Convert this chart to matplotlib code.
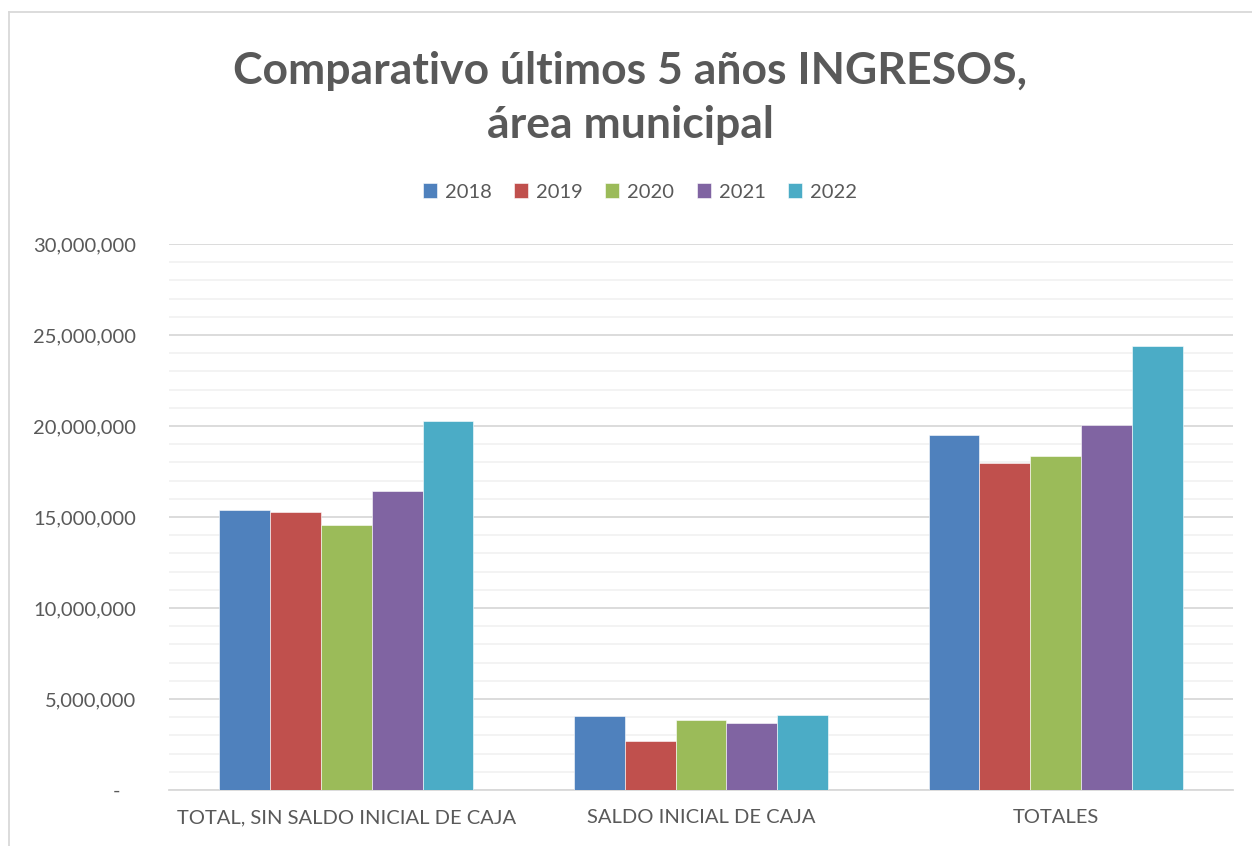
import matplotlib
matplotlib.use("Agg")
import matplotlib.pyplot as plt
from matplotlib.lines import Line2D
from matplotlib.ticker import FuncFormatter, MultipleLocator
import numpy as np

categories = ["TOTAL, SIN SALDO INICIAL DE CAJA", "SALDO INICIAL DE CAJA", "TOTALES"]
years = ["2018", "2019", "2020", "2021", "2022"]
v2018 = [15370000, 4070000, 19490000]
v2019 = [15290000, 2690000, 17970000]
v2020 = [14540000, 3850000, 18350000]
v2021 = [16410000, 3680000, 20050000]
v2022 = [20290000, 4120000, 24410000]
series = [v2018, v2019, v2020, v2021, v2022]
colors = ["#4F81BD", "#C0504D", "#9BBB59", "#8064A2", "#4BACC6"]

plt.rcParams['font.family'] = ['Lato', 'DejaVu Sans']
W, H = 1252, 846
fig = plt.figure(figsize=(W/100, H/100), dpi=100)
ax = fig.add_axes([169/W, 1-790/H, (1233-169)/W, (790-244)/H])

x = np.arange(len(categories))
bw = 0.716 / 5
for i, (yr, vals, c) in enumerate(zip(years, series, colors)):
    ax.bar(x + (i - 2) * bw, vals, width=bw, color=c, label=yr,
           edgecolor='white', linewidth=0.4, zorder=3)

ax.set_xlim(-0.5, 2.5)
ax.set_ylim(0, 30000000)
ax.yaxis.set_major_locator(MultipleLocator(5000000))
ax.yaxis.set_minor_locator(MultipleLocator(1000000))
ax.yaxis.set_major_formatter(FuncFormatter(lambda v, p: "-   " if v == 0 else f"{int(v):,}"))
ax.grid(which='major', axis='y', color='#D9D9D9', linewidth=1.3, zorder=0)
ax.grid(which='minor', axis='y', color='#F2F2F2', linewidth=1.3, zorder=0)
for s in ['top', 'right', 'left']:
    ax.spines[s].set_visible(False)
ax.spines['bottom'].set_color('#D9D9D9')
ax.spines['bottom'].set_linewidth(1.3)
ax.tick_params(axis='both', which='both', length=0, colors='#595959', labelsize=14.5)
ax.tick_params(axis='y', pad=23.5)
ax.tick_params(axis='x', pad=14)
ax.set_xticks(x)
ax.set_xticklabels(categories)

fig.text(630/W, 1-71/H, "Comparativo últimos 5 años INGRESOS,", ha='center', va='center',
         fontsize=32, fontweight='bold', color='#595959')
fig.text(630/W, 1-125/H, "área municipal", ha='center', va='center',
         fontsize=32, fontweight='bold', color='#595959')

leg = fig.legend(loc='center', bbox_to_anchor=(640/W, 1-192/H), ncol=5, frameon=False,
                 fontsize=14.5, handlelength=0.7, handleheight=0.7, handletextpad=0.4,
                 columnspacing=1.1, labelcolor='#595959')

fig.add_artist(Line2D([9/W, 1], [1-12.5/H, 1-12.5/H], transform=fig.transFigure,
                      color='#D9D9D9', linewidth=1.3))
fig.add_artist(Line2D([9/W, 9/W], [0, 1-12.5/H], transform=fig.transFigure,
                      color='#D9D9D9', linewidth=1.3))

fig.savefig("out.png", dpi=100, facecolor='white')
